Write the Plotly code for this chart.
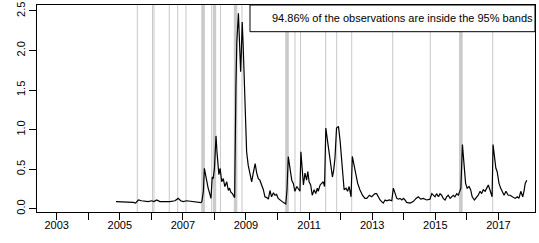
import plotly.graph_objects as go

# Series (decimal year, value)
years = [
    2004.88, 2005.01, 2005.17, 2005.27, 2005.43, 2005.50, 2005.59, 2005.69, 2005.80, 2005.90,
    2006.01, 2006.08, 2006.17, 2006.27, 2006.38, 2006.49, 2006.59, 2006.75, 2006.80, 2006.85,
    2006.93, 2007.01, 2007.12, 2007.38, 2007.57,
    2007.60, 2007.65, 2007.68, 2007.71, 2007.75, 2007.80, 2007.85, 2007.89, 2007.93, 2007.96,
    2008.00, 2008.03, 2008.05, 2008.08, 2008.10, 2008.14, 2008.18, 2008.23, 2008.28, 2008.33,
    2008.39, 2008.44, 2008.48, 2008.52, 2008.57, 2008.60, 2008.64, 2008.68, 2008.71, 2008.76,
    2008.79, 2008.81, 2008.83, 2008.85, 2008.88, 2008.91, 2008.95, 2008.97, 2009.00, 2009.02,
    2009.07, 2009.13, 2009.18, 2009.23, 2009.29,
    2009.34, 2009.39, 2009.44, 2009.50, 2009.55, 2009.60, 2009.66, 2009.71, 2009.76, 2009.81,
    2009.87, 2009.92, 2009.97, 2010.02, 2010.08, 2010.13, 2010.18, 2010.26, 2010.30, 2010.34,
    2010.39, 2010.45, 2010.50, 2010.55, 2010.61, 2010.66, 2010.71, 2010.74, 2010.78, 2010.82,
    2010.87, 2010.92, 2010.96, 2011.00, 2011.05, 2011.10, 2011.16, 2011.21, 2011.26, 2011.29,
    2011.35, 2011.40, 2011.45, 2011.49, 2011.53, 2011.58, 2011.63, 2011.69, 2011.74, 2011.78,
    2011.82, 2011.87, 2011.93, 2011.98, 2012.05, 2012.11, 2012.17, 2012.22, 2012.27, 2012.33,
    2012.37, 2012.42, 2012.48, 2012.54, 2012.61, 2012.69, 2012.77,
    2012.83, 2012.91, 2012.98, 2013.03, 2013.09, 2013.14, 2013.19, 2013.25, 2013.30, 2013.35,
    2013.41, 2013.46, 2013.54, 2013.62, 2013.67, 2013.72, 2013.78, 2013.83, 2013.88, 2013.94,
    2013.99, 2014.04, 2014.09, 2014.20, 2014.30, 2014.39, 2014.46, 2014.54, 2014.62, 2014.73,
    2014.83,
    2014.89, 2014.94, 2014.99, 2015.04, 2015.10, 2015.15, 2015.20, 2015.25, 2015.31, 2015.36,
    2015.41, 2015.47, 2015.52, 2015.57, 2015.62, 2015.68, 2015.73, 2015.78, 2015.81, 2015.86,
    2015.91, 2015.96, 2016.01, 2016.07, 2016.12, 2016.17, 2016.24, 2016.29, 2016.36, 2016.42,
    2016.47, 2016.52, 2016.58, 2016.63, 2016.68, 2016.73, 2016.77, 2016.80, 2016.83, 2016.88,
    2016.92, 2016.96, 2017.02, 2017.07, 2017.12, 2017.18, 2017.24, 2017.31, 2017.37, 2017.44,
    2017.53, 2017.60, 2017.65, 2017.71, 2017.77, 2017.81, 2017.85, 2017.90,
]
values = [
    0.088, 0.088, 0.088, 0.085, 0.080, 0.070, 0.110, 0.100, 0.090, 0.090,
    0.100, 0.090, 0.110, 0.090, 0.090, 0.090, 0.090, 0.100, 0.110, 0.130,
    0.100, 0.090, 0.100, 0.090, 0.076,
    0.089, 0.22, 0.51, 0.45, 0.34, 0.26, 0.19, 0.13, 0.40, 0.38,
    0.51, 0.76, 0.92, 0.72, 0.59, 0.43, 0.51, 0.34, 0.38, 0.28,
    0.34, 0.23, 0.26, 0.21, 0.19, 0.17, 0.14, 1.52, 2.11, 2.47,
    2.20, 1.90, 1.73, 1.94, 2.36, 2.07, 1.65, 1.31, 0.93, 0.72,
    0.55, 0.43, 0.34, 0.45, 0.57,
    0.45, 0.38, 0.36, 0.30, 0.24, 0.15, 0.14, 0.12, 0.23, 0.15,
    0.20, 0.17, 0.18, 0.13, 0.11, 0.09, 0.08, 0.06, 0.24, 0.66,
    0.53, 0.36, 0.32, 0.22, 0.28, 0.24, 0.22, 0.72, 0.49, 0.30,
    0.45, 0.36, 0.47, 0.34, 0.30, 0.17, 0.24, 0.19, 0.26, 0.22,
    0.30, 0.32, 0.34, 0.28, 1.02, 0.87, 0.72, 0.49, 0.40, 0.49,
    0.64, 1.02, 1.04, 0.87, 0.49, 0.24, 0.26, 0.22, 0.28, 0.15,
    0.66, 0.55, 0.40, 0.32, 0.24, 0.17, 0.13,
    0.13, 0.17, 0.15, 0.17, 0.19, 0.19, 0.15, 0.11, 0.09, 0.07,
    0.11, 0.10, 0.11, 0.10, 0.26, 0.19, 0.13, 0.12, 0.13, 0.11,
    0.13, 0.11, 0.08, 0.07, 0.09, 0.13, 0.15, 0.12, 0.13, 0.11,
    0.12,
    0.19, 0.17, 0.15, 0.19, 0.15, 0.19, 0.17, 0.13, 0.11, 0.15,
    0.17, 0.13, 0.15, 0.17, 0.15, 0.19, 0.17, 0.22, 0.26, 0.81,
    0.57, 0.32, 0.26, 0.28, 0.24, 0.15, 0.11, 0.13, 0.17, 0.22,
    0.19, 0.24, 0.22, 0.26, 0.30, 0.24, 0.17, 0.15, 0.81, 0.66,
    0.51, 0.47, 0.32, 0.26, 0.22, 0.17, 0.22, 0.17, 0.17, 0.15,
    0.13, 0.15, 0.13, 0.22, 0.15, 0.22, 0.32, 0.36,
]

# Dates where the observation falls outside the 95% bands (grey verticals)
exceed_years = [
    2005.555, 2006.036, 2006.084, 2006.569, 2006.835, 2007.098,
    2007.600, 2007.620, 2007.640, 2007.660, 2007.680,
    2007.913, 2007.965, 2007.985, 2008.005, 2008.025, 2008.040, 2008.190,
    2008.630, 2008.650, 2008.670, 2008.690, 2008.710, 2008.873,
    2010.260, 2010.280, 2010.300, 2010.320, 2010.340,
    2010.553, 2010.727, 2011.526, 2011.875, 2012.350, 2013.650, 2014.840,
    2015.770, 2015.790, 2015.810, 2015.830, 2015.850, 2016.820,
]

year_ticks = list(range(2003, 2018))
year_labels = [str(y) if y % 2 == 1 else "" for y in year_ticks]
y_ticks = [0.0, 0.5, 1.0, 1.5, 2.0, 2.5]
legend_text = "94.86% of the observations are inside the 95% bands"

fig = go.Figure()
fig.add_trace(go.Scatter(x=years, y=values, mode="lines",
                         line=dict(color="black", width=1.2), showlegend=False,
                         hoverinfo="skip"))

for yr in exceed_years:
    fig.add_shape(type="line", xref="x", yref="paper", x0=yr, x1=yr, y0=0, y1=1,
                  line=dict(color="#c8c8c8", width=1), layer="below")

# legend box (top right)
fig.add_shape(type="rect", xref="paper", yref="paper", x0=0.4277, x1=1.0, y0=0.871, y1=1.0,
              line=dict(color="black", width=1), fillcolor="white", layer="above")
fig.add_annotation(xref="paper", yref="paper", x=0.4679, y=0.9355, text=legend_text,
                   showarrow=False, xanchor="left", yanchor="middle",
                   font=dict(size=11, color="black"))

axis_common = dict(showline=True, mirror=True, linecolor="black", linewidth=1,
                   showgrid=False, zeroline=False, ticks="outside", ticklen=7,
                   tickcolor="black", tickwidth=1, automargin=False,
                   tickfont=dict(size=11, color="black"))

fig.update_xaxes(range=[2002.376, 2018.16], tickmode="array", tickvals=year_ticks,
                 ticktext=year_labels, ticklabelstandoff=-4, **axis_common)
fig.update_yaxes(range=[-0.042, 2.575], tickmode="array", tickvals=y_ticks,
                 ticktext=[f"{v:.1f}" for v in y_ticks], tickangle=-90, **axis_common)

fig.update_layout(width=539, height=243, margin=dict(l=37, r=4, t=5, b=31),
                  plot_bgcolor="white", paper_bgcolor="white",
                  font=dict(family="Liberation Sans, Arial, sans-serif", size=11, color="black"))

fig.write_html("out.html", config={"displayModeBar": False},
               post_script="document.body.style.margin='0';document.body.style.overflow='hidden';")
